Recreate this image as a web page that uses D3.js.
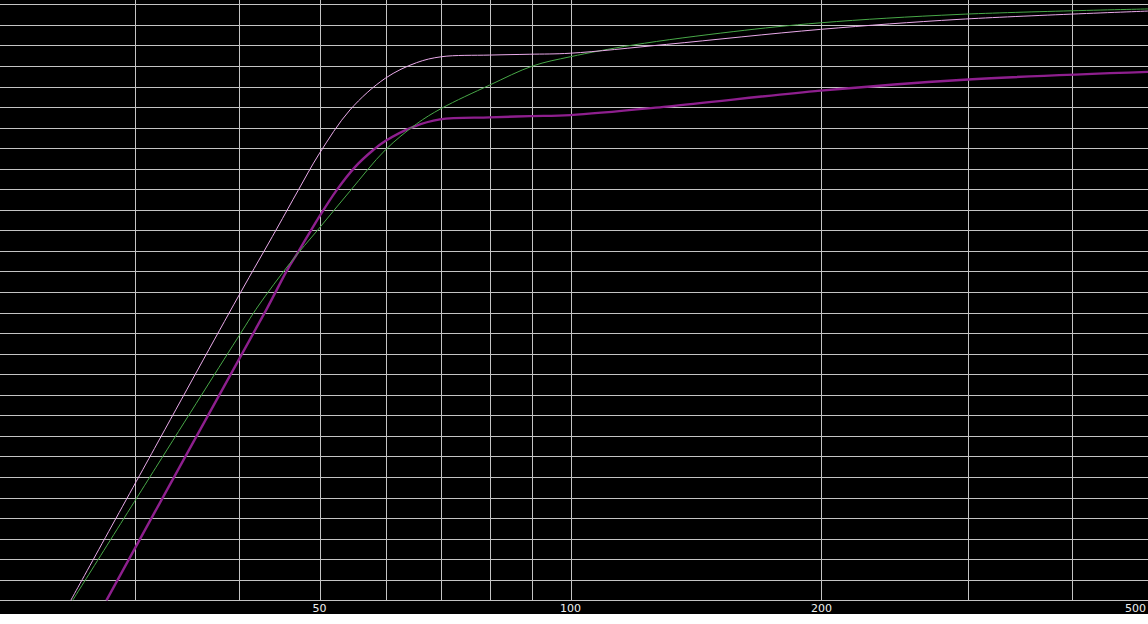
<!DOCTYPE html>
<html>
<head>
<meta charset="utf-8">
<script src="https://cdn.jsdelivr.net/npm/d3@7"></script>
<style>
  html, body { margin: 0; padding: 0; background: #ffffff; }
  svg { display: block; }
</style>
</head>
<body>
<svg id="chart" width="1148" height="624"></svg>
<script>
// ---- data (frequency in Hz, level in dB) ----
const xGridFreqs = [30, 40, 50, 60, 70, 80, 90, 100, 200, 300, 400];
const xTickLabels = [50, 100, 200, 500];
const yGridLevels = d3.range(-30, 0, 1); // -30 .. -1 dB, one line per dB

const pinkFreq = [25.16, 31.69, 39.93, 44.42, 47.16, 49.95, 54.39, 59.96, 65.37, 70.05, 80.0, 89.4, 100, 130.4, 199.5, 293.2, 500];
const pinkDb   = [-30.0, -22.62, -15.24, -11.93, -10.04, -8.28, -6.14, -4.60, -3.84, -3.55, -3.47, -3.43, -3.38, -2.95, -2.22, -1.73, -1.32];

const greenFreq = [25.29, 31.83, 40.21, 42.22, 46.08, 49.95, 54.39, 59.96, 65.37, 70.05, 80.0, 90.1, 100, 118.9, 156.7, 199.5, 293.2, 500];
const greenDb   = [-30.0, -23.53, -17.01, -15.68, -13.60, -11.90, -10.09, -8.09, -6.82, -6.06, -4.93, -4.00, -3.55, -2.98, -2.33, -1.90, -1.49, -1.22];

const purpleFreq = [27.76, 34.86, 43.21, 45.66, 47.16, 49.95, 52.43, 55.14, 58.0, 59.96, 64.77, 69.74, 80.0, 89.4, 100, 130.4, 199.5, 293.2, 500];
const purpleDb   = [-30.0, -22.69, -15.83, -13.98, -13.04, -11.34, -10.04, -8.92, -8.09, -7.65, -6.96, -6.60, -6.50, -6.44, -6.39, -5.98, -5.20, -4.68, -4.28];

// ---- layout ----
const W = 1148, H = 624;
const plotBottom = 614;
const svg = d3.select("#chart");

const x = d3.scaleLog().domain([20, 500]).range([-12.3, 1153.3]);
const y = d3.scaleLinear().domain([-30, -1]).range([600.3, 4.3]);

svg.append("rect").attr("x", 0).attr("y", 0).attr("width", W).attr("height", plotBottom).attr("fill", "#000");

svg.append("defs").append("clipPath").attr("id", "plotclip")
  .append("rect").attr("x", 0).attr("y", 0).attr("width", W).attr("height", 601);

const grid = svg.append("g").attr("stroke", "#c4c4c4").attr("stroke-width", 1).attr("shape-rendering", "crispEdges");
grid.selectAll("line.h").data(yGridLevels).join("line")
  .attr("class", "h")
  .attr("x1", 0).attr("x2", W)
  .attr("y1", d => Math.round(y(d)) + 0.5).attr("y2", d => Math.round(y(d)) + 0.5);
grid.selectAll("line.v").data(xGridFreqs).join("line")
  .attr("class", "v")
  .attr("x1", d => Math.round(x(d)) + 0.5).attr("x2", d => Math.round(x(d)) + 0.5)
  .attr("y1", 0).attr("y2", Math.round(y(-30)) + 0.5);

// tick labels
svg.append("g").selectAll("text").data(xTickLabels).join("text")
  .attr("x", d => Math.min(x(d), W - 2))
  .attr("y", 612)
  .attr("text-anchor", d => x(d) > W - 20 ? "end" : "middle")
  .attr("fill", "#f0f0f0")
  .attr("font-family", "'DejaVu Sans', Tahoma, sans-serif")
  .attr("font-size", 11)
  .text(d => d);

const line = d3.line().x(d => x(d[0])).y(d => y(d[1])).curve(d3.curveCatmullRom.alpha(0.5));
const zip = (f, v) => f.map((fr, i) => [fr, v[i]]);

const curves = svg.append("g").attr("clip-path", "url(#plotclip)").attr("fill", "none");
curves.append("path").datum(zip(purpleFreq, purpleDb))
  .attr("d", line).attr("stroke", "#8e1f8e").attr("stroke-width", 2.4);
curves.append("path").datum(zip(greenFreq, greenDb))
  .attr("d", line).attr("stroke", "#48a848").attr("stroke-width", 1);
curves.append("path").datum(zip(pinkFreq, pinkDb))
  .attr("d", line).attr("stroke", "#eaaaea").attr("stroke-width", 1);
</script>
</body>
</html>
